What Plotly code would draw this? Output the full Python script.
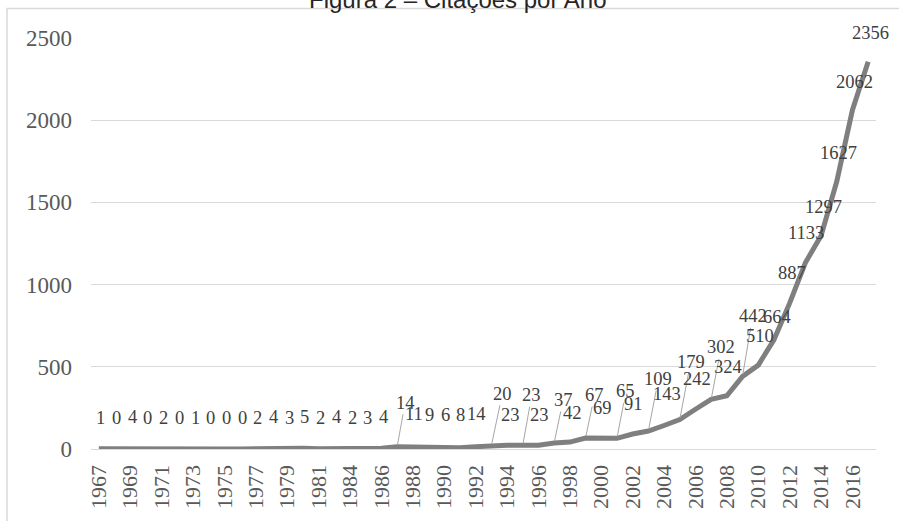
import plotly.graph_objects as go

years = [str(y) for y in list(range(1967, 1983)) + list(range(1984, 2018))]
citations = [1, 0, 4, 0, 2, 0, 1, 0, 0, 0, 2, 4, 3, 5, 2, 4, 2, 3, 4,
             14, 11, 9, 6, 8, 14, 20, 23, 23, 23, 37, 42, 67, 69, 65, 91,
             109, 143, 179, 242, 302, 324, 442, 510, 664, 887, 1133, 1297,
             1627, 2062, 2356]
tick_years = years[::2]

# label offsets (pixels) relative to each point; leader flag
label_dx = [2] * 19 + [8, 1, 1, 1, 1, 1, 11, 3, 9, 1, 9, 3, 9, 1, 9, 1, 10, 3, 11, 2, 10, 1, 10, 2, 3, 2, 1, 2, 2, 2, 2]
label_dy = [-31] * 19 + [-44, -33, -33, -33, -33, -33, -52, -30, -50, -30, -43, -29, -43, -30, -47, -30, -52, -31, -58, -30, -52, -29, -60, -29, -23, -30, -30, -29, -29, -28, -29]
leader = [False] * 19 + [True] + [False] * 5 + [True, False] * 9 + [False] * 7

L, R, T, B = 91, 23, 38, 72
W, H = 899, 521
pw, ph = W - L - R, H - T - B

fig = go.Figure()
fig.add_trace(go.Scatter(
    x=years, y=citations, mode="lines",
    line=dict(color="#7f7f7f", width=5),
    hoverinfo="x+y", showlegend=False,
))

annotations = []
for i, v in enumerate(citations):
    annotations.append(dict(
        x=i, y=v, xref="x", yref="y", text=str(v),
        showarrow=True, ax=label_dx[i], ay=label_dy[i],
        arrowhead=0, arrowwidth=1, standoff=2,
        arrowcolor="#a6a6a6" if leader[i] else "rgba(0,0,0,0)",
        font=dict(family="Liberation Serif", size=18.5, color="#404040"),
    ))

annotations.append(dict(
    text="Figura 2 – Citações por Ano", xref="paper", yref="paper",
    x=(458 - L) / pw, y=(H - B - 0) / ph, xanchor="center", yanchor="middle",
    showarrow=False, font=dict(family="Liberation Sans", size=24, color="#262626"),
))

fig.update_layout(
    width=W, height=H,
    margin=dict(l=L, r=R, t=T, b=B, pad=0),
    paper_bgcolor="white", plot_bgcolor="white",
    annotations=annotations,
    shapes=[dict(type="rect", xref="paper", yref="paper",
                 x0=(7 - L) / pw, x1=(910 - L) / pw,
                 y0=(H - B - 540) / ph, y1=(H - B - 8.5) / ph,
                 line=dict(color="#d9d9d9", width=1.5), fillcolor="rgba(0,0,0,0)",
                 layer="below")],
    xaxis=dict(type="category", range=[-0.5, len(years) - 0.5],
               tickmode="array", tickvals=tick_years, ticktext=tick_years,
               tickangle=-90, showgrid=False, zeroline=False,
               showline=True, linecolor="#d9d9d9", linewidth=1.3,
               ticks="", ticklabelstandoff=6,
               tickfont=dict(family="Liberation Serif", size=22, color="#595959")),
    yaxis=dict(range=[0, 2500], tickvals=[0, 500, 1000, 1500, 2000, 2500],
               showgrid=True, gridcolor="#d9d9d9", gridwidth=1.3,
               zeroline=False, showline=False, ticks="", ticklabelstandoff=18,
               tickfont=dict(family="Liberation Serif", size=23, color="#595959")),
)

fig.write_html("out.html")
